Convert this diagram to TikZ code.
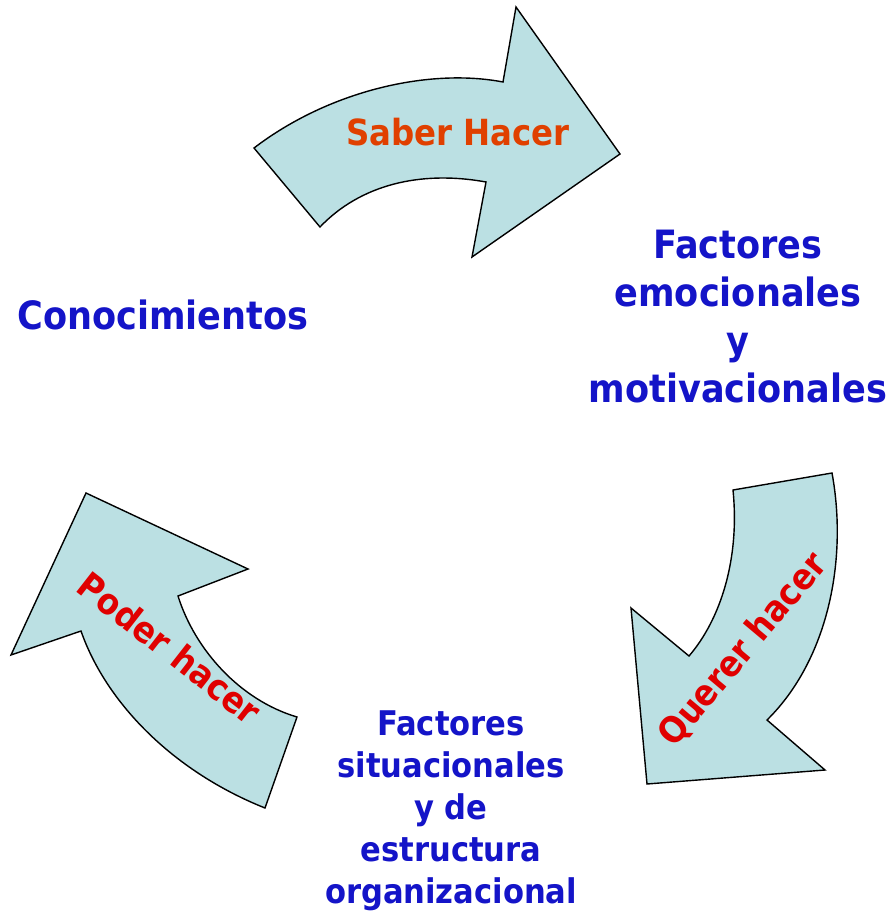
\documentclass[tikz,border=0pt]{standalone}
\usepackage{fontspec}
\setmainfont{DejaVu Sans Condensed}
\definecolor{arrowfill}{RGB}{187,224,227}
\definecolor{txtblue}{RGB}{20,20,200}
\definecolor{txtorange}{RGB}{224,64,0}
\definecolor{txtred}{RGB}{224,0,0}
\tikzset{
  bigarrow/.style={fill=arrowfill,draw=black,line width=1.4pt,line join=miter},
  bluetext/.style={text=txtblue,font=\bfseries\fontsize{39}{48}\selectfont,align=center,inner sep=0pt},
  bluesmall/.style={text=txtblue,font=\bfseries\fontsize{34}{42}\selectfont,align=center,inner sep=0pt},
  arrowlabel/.style={font=\bfseries\fontsize{36}{40}\selectfont,inner sep=0pt}
}
\begin{document}
\begin{tikzpicture}[x=1pt,y=-1pt]
\useasboundingbox (0,0) rectangle (893,913);
% Saber Hacer arrow
\draw[bigarrow] (254,148) .. controls (330,90) and (430,68) .. (503,82)
  -- (516,7) -- (620,154) -- (472,257) -- (486,182)
  .. controls (420,170) and (360,185) .. (320,227) -- cycle;
% Querer hacer arrow
\draw[bigarrow] (733,490) -- (832,473)
  .. controls (848,560) and (828,660) .. (767,720)
  -- (825,770) -- (647,784) -- (631,608) -- (689,656)
  .. controls (720,620) and (740,560) .. cycle;
% Poder hacer arrow
\draw[bigarrow] (86,493) -- (248,569) -- (178,596)
  .. controls (195,650) and (240,700) .. (297,717)
  -- (265,808)
  .. controls (170,770) and (105,700) .. (81,631)
  -- (11,655) -- cycle;
% labels
\node[arrowlabel,text=txtorange] (saber) at (458,132) {Saber Hacer};
\node[arrowlabel,text=txtred,rotate=50] (querer) at (743,650) {Querer hacer};
\node[arrowlabel,text=txtred,rotate=-38] (poder) at (170,648) {Poder hacer};
\node[bluetext] (conoc) at (163,315) {Conocimientos};
\node[bluetext] (emoc) at (738,317) {Factores\\emocionales\\y\\motivacionales};
\node[bluesmall] (situ) at (451,811) {Factores\\situacionales\\y de\\estructura\\organizacional};
\end{tikzpicture}
\end{document}
